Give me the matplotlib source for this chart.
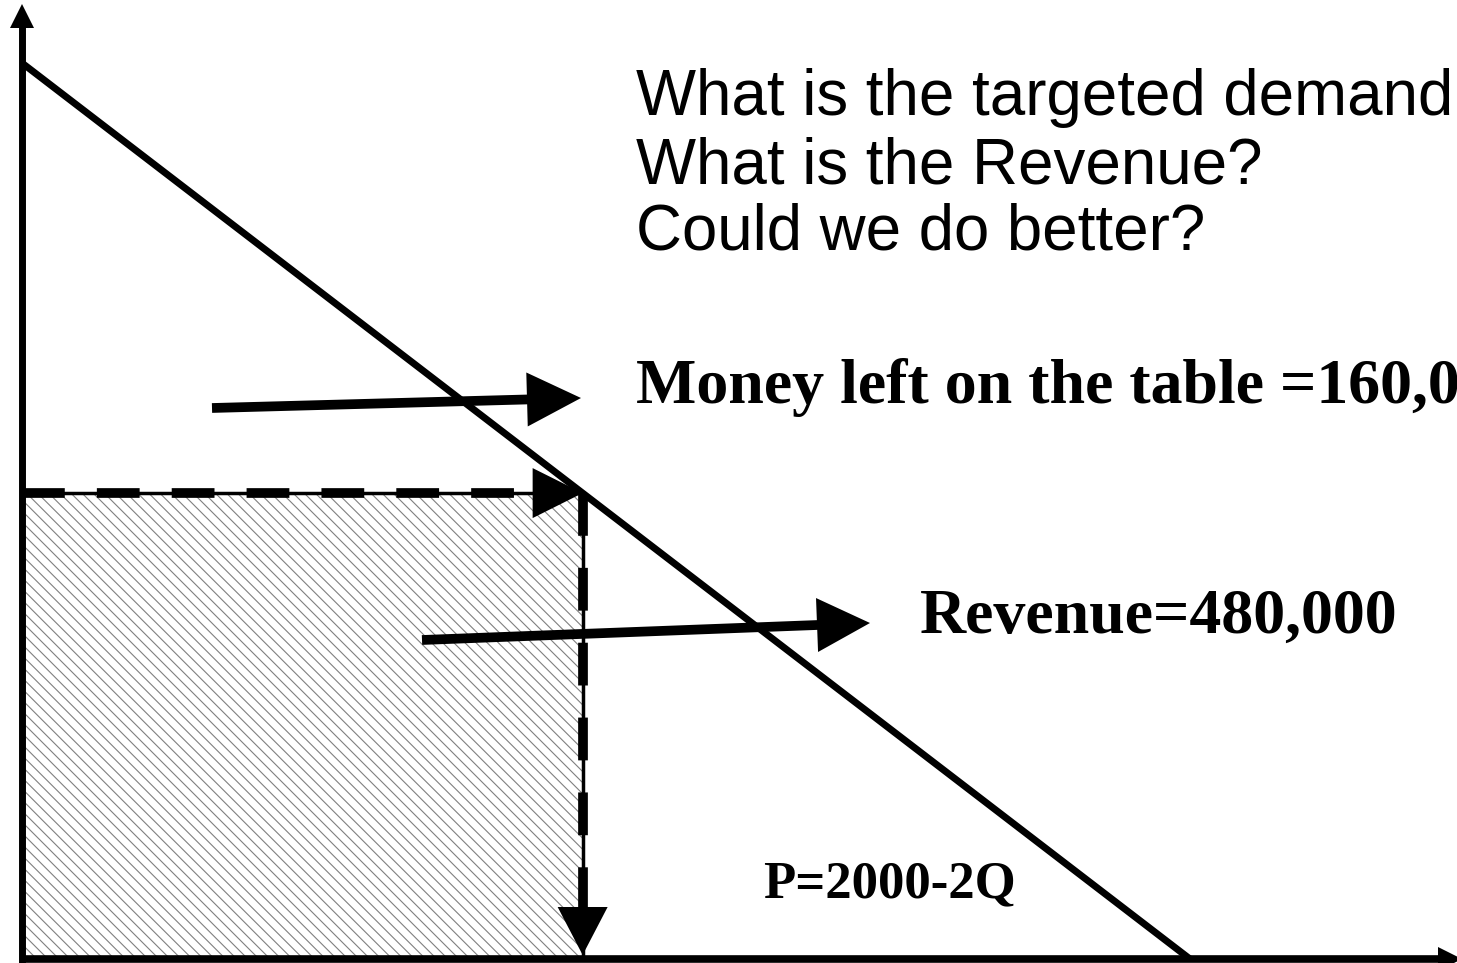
import numpy as np
import matplotlib
matplotlib.use("Agg")
import matplotlib.pyplot as plt
from matplotlib.lines import Line2D
from matplotlib.patches import Polygon, Rectangle

# demand curve P = 2000 - 2Q
price_max = 2000
slope = 2
q_max = price_max / slope
q_target = 480
p_target = price_max - slope * q_target

questions = ["What is the targeted demand", "What is the Revenue?", "Could we do better?"]
money_label = "Money left on the table =160,000"
revenue_label = "Revenue=480,000"
demand_label = "P=2000-2Q"

W, H = 1457, 963
fig = plt.figure(figsize=(W / 100, H / 100), dpi=100)
ax = fig.add_axes([0, 0, 1, 1])

# pixel layout of the sketch: Q=0 at x=22, Q=q_max at x=1190, P=0 at y=959, P=price_max at y=63
x0, x1 = 22, 1190
y0, y1 = 959, 63
qs = (x1 - x0) / q_max
ps = (y0 - y1) / price_max
ax.set_xlim(-x0 / qs, (W - x0) / qs)
ax.set_ylim(-(H - y0) / ps, y0 / ps)
ax.axis("off")


def to_px(p):
    return ax.transData.transform(p)


def arrow(start, tip, lw, head_len, head_half, data=True, z=5, **kw):
    # shaft as a line, head as a filled triangle, both in display pixels
    if data:
        a, b = to_px(start), to_px(tip)
    else:
        a = np.array([start[0], H - start[1]], float)
        b = np.array([tip[0], H - tip[1]], float)
    u = (b - a) / np.hypot(*(b - a))
    n = np.array([-u[1], u[0]])
    base = b - u * head_len
    ax.add_line(Line2D([a[0], base[0] + u[0] * 2], [a[1], base[1] + u[1] * 2], lw=lw,
                       color="black", transform=None, solid_capstyle="butt", zorder=z, **kw))
    ax.add_patch(Polygon([b, base + n * head_half, base - n * head_half], closed=True,
                         facecolor="black", edgecolor="none", transform=None, zorder=z + 0.1))


# revenue rectangle
plt.rcParams["hatch.linewidth"] = 0.8
ax.add_patch(Rectangle((0, 0), q_target, p_target, facecolor="white",
                       edgecolor="#808080", hatch="\\\\\\", lw=0, zorder=1))

# demand line
q = np.array([0, q_max])
ax.plot(q, price_max - slope * q, color="black", lw=5, solid_capstyle="butt", zorder=4)

# axes with arrows
ylo, yhi = ax.get_ylim()
arrow((0, ylo), (0, (y0 - 4) / ps), 5, 24, 12, z=6)
arrow((0, 0), ((1462 - x0) / qs, 0), 5.5, 24, 12, z=6)

# dashed guides: thin solid line with thick dashes on top
dash = (0, (4.4, 3.3))
ax.plot([0, q_target], [p_target, p_target], color="black", lw=2.5, zorder=3)
ax.plot([0, q_target - 50 / qs], [p_target, p_target], color="black", lw=7,
        linestyle=dash, dash_capstyle="butt", zorder=3)
ax.plot([q_target, q_target], [p_target, 0], color="black", lw=2.5, zorder=3)
ax.plot([q_target, q_target], [p_target, 50 / ps], color="black", lw=7,
        linestyle=dash, dash_capstyle="butt", zorder=3)
arrow((0, p_target), (q_target, p_target), 0.1, 50, 25, z=3)
arrow((q_target, p_target), (q_target, 4 / ps), 0.1, 48, 25, z=3)

# pointer arrows (pixel positions)
arrow((212, 408), (581, 398), 7, 54, 27, data=False, z=7)
arrow((422, 640), (870, 623), 7, 53, 27, data=False, z=7)

# text
sans = ["Liberation Sans", "DejaVu Sans"]
serif = ["Liberation Serif", "DejaVu Serif"]
for s, yb in zip(questions, [115, 183, 250]):
    fig.text(636 / W, 1 - yb / H, s, fontsize=45.8, family=sans, va="baseline", ha="left")
fig.text(636 / W, 1 - 403 / H, money_label, fontsize=46, family=serif, weight="bold",
         va="baseline", ha="left")
fig.text(920 / W, 1 - 633 / H, revenue_label, fontsize=46, family=serif, weight="bold",
         va="baseline", ha="left")
fig.text(763 / W, 1 - 897 / H, demand_label, fontsize=38, family=serif, weight="bold",
         va="baseline", ha="left")

fig.savefig("out.png", dpi=100)
